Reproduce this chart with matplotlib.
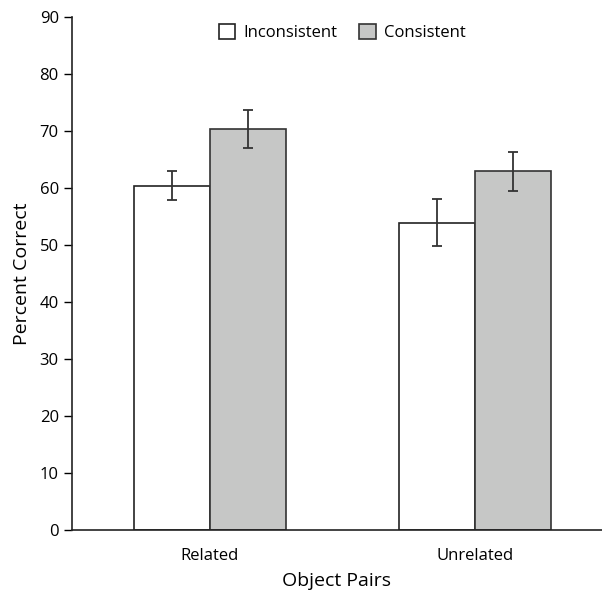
import matplotlib.pyplot as plt
import numpy as np

groups = ["Related", "Unrelated"]
inconsistent = [60.4, 53.9]
inconsistent_err = [2.5, 4.1]
consistent = [70.4, 62.9]
consistent_err = [3.3, 3.4]

plt.rcParams["font.family"] = ["Open Sans", "DejaVu Sans"]

fig = plt.figure(figsize=(6.02, 5.96), dpi=100)
ax = fig.add_axes([0.1196, 0.1107, 0.8804, 0.8608])

x = np.arange(len(groups))
w = 0.287
err_kw = dict(ecolor="#333333", elinewidth=1.3, capsize=3.3, capthick=1.3)
ax.bar(x - w / 2, inconsistent, w, yerr=inconsistent_err, color="white",
       edgecolor="#222222", linewidth=1.2, label="Inconsistent", error_kw=err_kw)
ax.bar(x + w / 2, consistent, w, yerr=consistent_err, color="#c6c7c6",
       edgecolor="#333333", linewidth=1.2, label="Consistent", error_kw=err_kw)

ax.set_xlim(-0.52, 1.48)
ax.set_ylim(0, 90)
ax.set_yticks(np.arange(0, 91, 10))
ax.set_xticks(x)
ax.set_xticklabels(groups, fontsize=12)
ax.tick_params(axis="x", length=0, pad=13)
ax.tick_params(axis="y", labelsize=12, length=6, width=1, direction="out")
for side in ("top", "right"):
    ax.spines[side].set_visible(False)
for side in ("left", "bottom"):
    ax.spines[side].set_linewidth(1.2)
    ax.spines[side].set_color("#222222")

ax.set_ylabel("Percent Correct", fontsize=14, labelpad=6)
ax.set_xlabel("Object Pairs", fontsize=14, labelpad=6)

ax.legend(loc="upper center", bbox_to_anchor=(0.51, 1.015), ncol=2, frameon=False,
          fontsize=12, handlelength=1.0, handleheight=1.0, columnspacing=1.3,
          handletextpad=0.5)

fig.savefig("out.png", dpi=100)
